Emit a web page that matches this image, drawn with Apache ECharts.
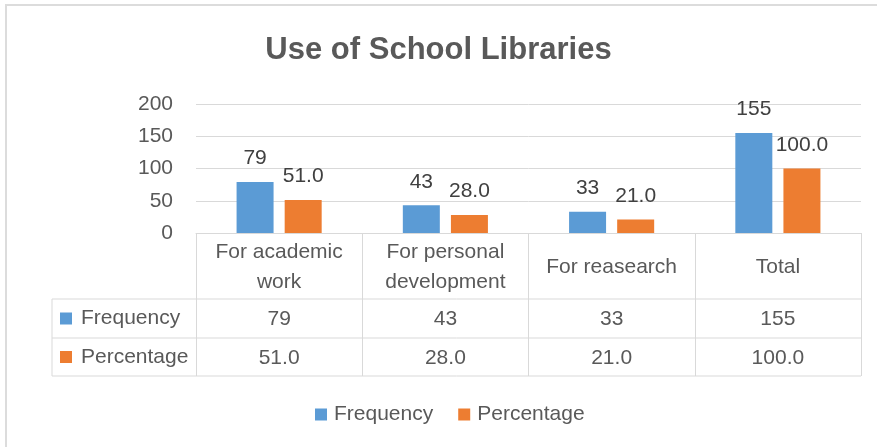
<!DOCTYPE html>
<html>
<head>
<meta charset="utf-8">
<script src="https://cdn.jsdelivr.net/npm/echarts@6/dist/echarts.min.js"></script>
<style>
  html, body { margin: 0; padding: 0; background: #fff; }
  #main { width: 877px; height: 447px; }
</style>
</head>
<body>
<div id="main"></div>
<script>
var categories = ['For academic\nwork', 'For personal\ndevelopment', 'For reasearch', 'Total'];
var frequency = [79, 43, 33, 155];
var percentage = [51.0, 28.0, 21.0, 100.0];
var seriesNames = ['Frequency', 'Percentage'];
var yTicks = [0, 50, 100, 150, 200];

var colors = ['#5b9bd5', '#ed7d31'];
var txt = '#595959';
var font = 'Liberation Sans, Arial, sans-serif';
var fs = 21;
var lineCol = '#d9d9d9';

// grid / table geometry
var gL = 196, gR = 861, gTop = 104, gBot = 233;
var tLeft = 52, row1 = 299, row2 = 338, row3 = 376;

var chart = echarts.init(document.getElementById('main'));

function rowAxis(vals, fmt, off) {
    return {
        type: 'category',
        data: categories,
        position: 'bottom',
        offset: off,
        axisLine: { show: false },
        axisTick: { show: false },
        axisLabel: {
            interval: 0, margin: 0, fontSize: fs, color: txt, fontFamily: font,
            lineHeight: 20,
            formatter: function (v, i) { return fmt(vals[i]); }
        }
    };
}

var graphics = [
    // frame lines of the chart area
    { type: 'line', shape: { x1: 5, y1: 5, x2: 877, y2: 5 }, style: { stroke: '#dcdcdc', lineWidth: 2 } },
    { type: 'line', shape: { x1: 6, y1: 5, x2: 6, y2: 447 }, style: { stroke: '#dcdcdc', lineWidth: 2 } },
    // table horizontal lines
    { type: 'line', shape: { x1: tLeft, y1: row1, x2: gR, y2: row1 }, style: { stroke: lineCol, lineWidth: 1 } },
    { type: 'line', shape: { x1: tLeft, y1: row2, x2: gR, y2: row2 }, style: { stroke: lineCol, lineWidth: 1 } },
    { type: 'line', shape: { x1: tLeft, y1: row3, x2: gR, y2: row3 }, style: { stroke: lineCol, lineWidth: 1 } },
    { type: 'line', shape: { x1: tLeft, y1: row1, x2: tLeft, y2: row3 }, style: { stroke: lineCol, lineWidth: 1 } }
];
var rowMid = [(row1 + row2) / 2, (row2 + row3) / 2];
seriesNames.forEach(function (n, i) {
    graphics.push({ type: 'rect', shape: { x: 60, y: rowMid[i] - 6, width: 12, height: 12 }, style: { fill: colors[i] } });
    graphics.push({ type: 'text', x: 81, y: rowMid[i], style: { text: n, fill: txt, font: fs + 'px ' + font, verticalAlign: 'middle' } });
});

var option = {
    animation: false,
    backgroundColor: '#fff',
    color: colors,
    title: {
        text: 'Use of School Libraries',
        left: 'center',
        top: 30,
        textStyle: { fontSize: 31, fontWeight: 'bold', color: txt, fontFamily: font }
    },
    legend: {
        data: seriesNames,
        left: 315,
        top: 404,
        padding: 0,
        icon: 'rect',
        itemWidth: 12,
        itemHeight: 12,
        itemGap: 25,
        textStyle: { fontSize: fs, color: txt, fontFamily: font, padding: [0, 0, 0, 2] }
    },
    grid: { left: gL, right: 877 - gR, top: gTop, bottom: 447 - gBot, containLabel: false },
    xAxis: [
        {
            type: 'category',
            data: categories,
            axisLine: { show: true, lineStyle: { color: lineCol, width: 1 } },
            axisTick: { show: true, length: row3 - gBot, lineStyle: { color: lineCol } },
            axisLabel: {
                interval: 0, margin: 4, fontSize: fs, lineHeight: 30, color: txt, fontFamily: font,
                formatter: function (v) {
                    return v.indexOf('\n') < 0 ? '{one|' + v + '}' : v;
                },
                rich: { one: { fontSize: fs, lineHeight: 60, color: txt, fontFamily: font } }
            }
        },
        rowAxis(frequency, function (v) { return String(v); }, 76),
        rowAxis(percentage, function (v) { return v.toFixed(1); }, 115)
    ],
    yAxis: {
        type: 'value',
        min: yTicks[0],
        max: yTicks[yTicks.length - 1],
        interval: 50,
        axisLine: { show: false },
        axisTick: { show: false },
        axisLabel: { fontSize: fs, color: txt, fontFamily: font, margin: 23 },
        splitLine: { lineStyle: { color: lineCol, width: 1 } }
    },
    series: [
        {
            name: seriesNames[0],
            type: 'bar',
            barWidth: 37,
            barGap: '30%',
            data: frequency,
            label: { show: true, position: 'top', distance: 13, fontSize: fs, color: '#404040', fontFamily: font }
        },
        {
            name: seriesNames[1],
            type: 'bar',
            barWidth: 37,
            barGap: '30%',
            data: percentage,
            label: {
                show: true, position: 'top', distance: 13, fontSize: fs, color: '#404040', fontFamily: font,
                formatter: function (p) { return p.value.toFixed(1); }
            }
        }
    ],
    graphic: graphics
};

chart.setOption(option);
</script>
</body>
</html>
